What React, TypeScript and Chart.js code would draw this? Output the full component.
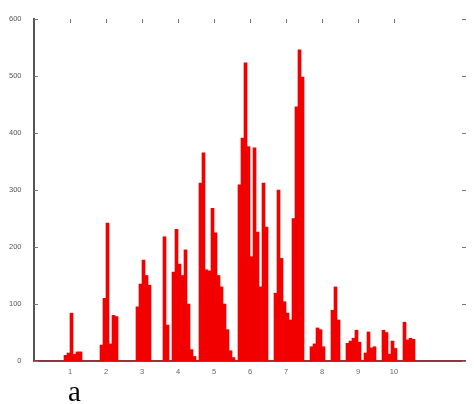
import React, { useEffect, useRef } from "react";
import { Chart, registerables } from "chart.js";

Chart.register(...registerables);

// Histogram counts, 12 bins per unit on the x axis (one row per unit, 0 → 12).
const binsPerUnit = 12;
const counts: number[] = [
  0, 0, 0, 0, 0, 0, 0, 0, 0, 0, 10, 14,
  84, 12, 16, 16, 0, 0, 0, 0, 0, 0, 28, 110,
  242, 30, 80, 78, 0, 0, 0, 0, 0, 0, 95, 135,
  177, 150, 133, 0, 0, 0, 0, 218, 63, 0, 156, 231,
  170, 150, 195, 100, 20, 8, 0, 312, 365, 160, 158, 268,
  225, 150, 130, 100, 55, 18, 6, 0, 309, 391, 523, 376,
  183, 374, 226, 130, 312, 235, 0, 0, 119, 300, 180, 104,
  84, 72, 250, 446, 546, 498, 0, 0, 25, 30, 58, 55,
  25, 0, 0, 89, 130, 72, 0, 0, 31, 35, 40, 54,
  33, 0, 14, 51, 23, 25, 0, 0, 54, 50, 12, 35,
  22, 0, 0, 68, 37, 40, 38, 0, 0, 0, 0, 0,
  0, 0, 0, 0, 0, 0, 0, 0, 0, 0, 0, 0,
];

const xTickValues = [1, 2, 3, 4, 5, 6, 7, 8, 9, 10];
const xTickLabels = ["1", "2", "3", "4", "5", "6", "7", "8", "9", "10"];
const yTickValues = [0, 100, 200, 300, 400, 500, 600];
const xMin = 0;
const xMax = 12;
const yMax = 600;
const panelLabel = "a";

// Small inward tick marks on all four sides of the box.
const boxTicks = {
  id: "boxTicks",
  beforeDatasetsDraw(chart: any) {
    const { ctx, chartArea, scales } = chart;
    const len = 4;
    ctx.save();
    ctx.strokeStyle = "#777";
    ctx.lineWidth = 1;
    ctx.beginPath();
    for (const v of yTickValues) {
      const y = Math.round(scales.y.getPixelForValue(v)) + 0.5;
      ctx.moveTo(chartArea.left, y);
      ctx.lineTo(chartArea.left + len, y);
      ctx.moveTo(chartArea.right - len, y);
      ctx.lineTo(chartArea.right, y);
    }
    for (const v of xTickValues) {
      const x = Math.round(scales.x.getPixelForValue(v)) + 0.5;
      ctx.moveTo(x, chartArea.top);
      ctx.lineTo(x, chartArea.top + len);
      ctx.moveTo(x, chartArea.bottom - len);
      ctx.lineTo(x, chartArea.bottom);
    }
    ctx.stroke();
    ctx.restore();
  },
};

export default function App() {
  const canvasRef = useRef<HTMLCanvasElement | null>(null);

  useEffect(() => {
    const canvas = canvasRef.current;
    if (!canvas) return;
    const points = counts.map((c, i) => ({ x: (i + 0.5) / binsPerUnit, y: c }));
    const chart = new Chart(canvas, {
      type: "bar",
      data: {
        datasets: [
          {
            data: points as any,
            backgroundColor: "#f20000",
            borderWidth: 0,
            barPercentage: 1,
            categoryPercentage: 1,
          },
        ],
      },
      options: {
        animation: false,
        responsive: false,
        devicePixelRatio: 1,
        layout: { padding: { top: 5, right: 8, left: 0, bottom: 0 } },
        plugins: { legend: { display: false }, tooltip: { enabled: false } },
        scales: {
          x: {
            type: "linear",
            min: xMin,
            max: xMax,
            offset: false,
            afterBuildTicks: (scale: any) => {
              scale.ticks = xTickValues.map((v) => ({ value: v }));
            },
            afterFit: (scale: any) => {
              scale.height = 20;
            },
            grid: { display: false, drawTicks: false },
            border: { display: true, color: "#555", width: 2 },
            ticks: {
              autoSkip: false,
              maxRotation: 0,
              padding: 6,
              color: "#666",
              font: { family: "Liberation Sans", size: 7.5 },
              callback: (v: any) => {
                const k = xTickValues.indexOf(Number(v));
                return k >= 0 ? xTickLabels[k] : "";
              },
            },
          },
          y: {
            min: 0,
            max: yMax,
            afterBuildTicks: (scale: any) => {
              scale.ticks = yTickValues.map((v) => ({ value: v }));
            },
            afterFit: (scale: any) => {
              scale.width = 26;
            },
            grid: { display: false, drawTicks: false },
            border: { display: true, color: "#555", width: 2 },
            ticks: {
              padding: 12.5,
              color: "#555",
              font: { family: "Liberation Sans", size: 7.5 },
            },
          },
        },
      },
      plugins: [boxTicks],
    });
    return () => chart.destroy();
  }, []);

  return (
    <div style={{ position: "relative", width: 466, height: 402, marginTop: -6 }}>
      <canvas ref={canvasRef} width={466} height={379} style={{ display: "block" }} />
      <span
        style={{
          position: "absolute",
          left: 60,
          top: 375,
          fontFamily: "'Liberation Serif', serif",
          fontSize: 29,
          lineHeight: "29px",
          color: "#000",
        }}
      >
        {panelLabel}
      </span>
    </div>
  );
}
